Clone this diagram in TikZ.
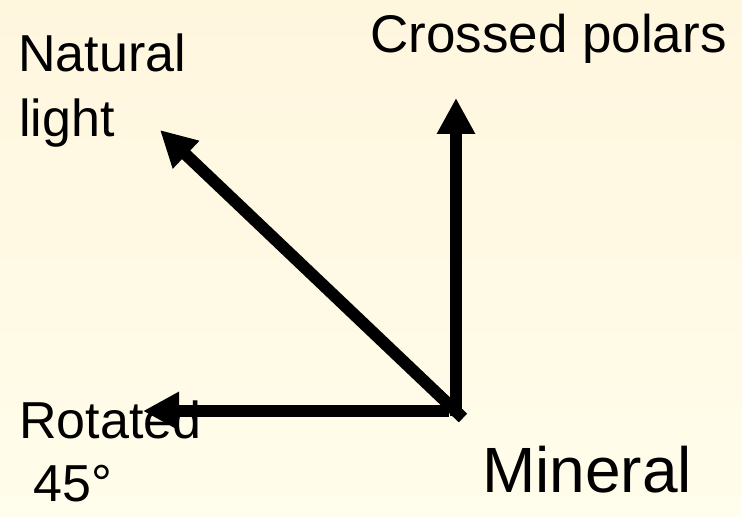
\documentclass[tikz,border=0pt]{standalone}
\usepackage{fontspec}
\setmainfont{Liberation Sans}
\usetikzlibrary{arrows.meta}
\definecolor{bgtop}{RGB}{255,246,222}
\definecolor{bgbot}{RGB}{255,253,235}
\tikzset{
  lbl/.style={anchor=base west, inner sep=0pt, text=black, font=\fontsize{52bp}{62bp}\selectfont},
  vec/.style={line width=12bp, black, -{Triangle[length=36bp,width=36bp]}}
}
\begin{document}
\begin{tikzpicture}[x=1bp,y=-1bp]
\shade[top color=bgtop, bottom color=bgbot] (0,0) rectangle (742,517);
\useasboundingbox (0,0) rectangle (742,517);
% coordinates
\coordinate (ov) at (456,416);
\coordinate (oh) at (449,411);
\coordinate (od) at (463,418);
\coordinate (tv) at (456,98);
\coordinate (td) at (160,130);
\coordinate (th) at (143,411);
% arrows
\draw[vec] (ov) -- (tv);
\draw[vec] (od) -- (td);
\draw[vec] (oh) -- (th);
% labels
\node[lbl] (nat1) at (18,72) {Natural};
\node[lbl] (nat2) at (19,137) {light};
\node[lbl, font=\fontsize{53bp}{62bp}\selectfont] (cross) at (370,53) {Crossed polars};
\node[lbl] (rot1) at (19,438) {Rotated};
\node[lbl] (rot2) at (33,501) {45°};
\node[lbl, font=\fontsize{64bp}{72bp}\selectfont] (min) at (482,492) {Mineral};
\end{tikzpicture}
\end{document}
